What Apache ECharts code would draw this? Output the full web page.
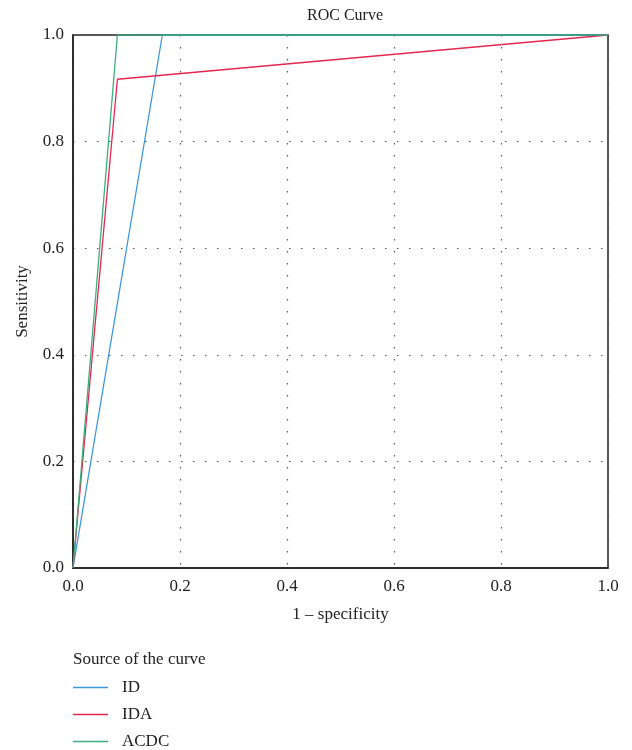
<!DOCTYPE html>
<html><head><meta charset="utf-8">
<script src="https://cdn.jsdelivr.net/npm/echarts@6/dist/echarts.min.js"></script>
<style>html,body{margin:0;padding:0;background:#fff}#c{width:632px;height:750px}</style>
</head><body><div id="c"></div>
<script>
const seriesNames = ['ID', 'IDA', 'ACDC'];
const idX = [0, 0.167, 1];
const idY = [0, 1, 1];
const idaX = [0, 0.083, 1];
const idaY = [0, 0.917, 1];
const acdcX = [0, 0.083, 1];
const acdcY = [0, 1, 1];
const tickValues = [0, 0.2, 0.4, 0.6, 0.8, 1.0];
const colors = ['#3f97dc', '#e5264f', '#3aae7c'];

const FONT = 'Liberation Serif';
const pairs = (xs, ys) => xs.map((x, i) => [x, ys[i]]);
const seriesData = [pairs(idX, idY), pairs(idaX, idaY), pairs(acdcX, acdcY)];

const chart = echarts.init(document.getElementById('c'), null, {renderer: 'canvas'});
chart.setOption({
  animation: false,
  textStyle: {fontFamily: FONT},
  title: [
    {text: 'ROC Curve', left: 340, top: 3, textAlign: 'center',
     textStyle: {fontFamily: FONT, fontSize: 16, fontWeight: 'normal', color: '#222'}},
    {text: 'Source of the curve', left: 68, top: 646,
     textStyle: {fontFamily: FONT, fontSize: 17, fontWeight: 'normal', color: '#222'}}
  ],
  legend: {
    orient: 'vertical', left: 73, top: 679, height: 71, itemGap: 10, padding: 0,
    itemWidth: 35, itemHeight: 1.5, icon: 'rect',
    data: seriesNames,
    textStyle: {fontFamily: FONT, fontSize: 17, color: '#222', padding: [0, 0, 0, 9]}
  },
  grid: {left: 73, right: 24, top: 35, bottom: 182, show: true, borderColor: '#222', borderWidth: 1.5, containLabel: false},
  xAxis: {
    type: 'value', min: 0, max: 1, interval: 0.2,
    name: '1 – specificity', nameLocation: 'middle', nameGap: 38,
    nameTextStyle: {fontFamily: FONT, fontSize: 17, color: '#222'},
    axisLine: {show: true, lineStyle: {color: '#222', width: 1.5}},
    axisTick: {show: false},
    axisLabel: {fontFamily: FONT, fontSize: 17, color: '#222', margin: 10,
      formatter: v => tickValues.includes(+v.toFixed(1)) ? v.toFixed(1) : ''},
    splitLine: {show: true, lineStyle: {color: '#555', type: [1.5, 10.5], width: 1.2}}
  },
  yAxis: {
    type: 'value', min: 0, max: 1, interval: 0.2,
    name: 'Sensitivity', nameLocation: 'middle', nameGap: 42,
    nameTextStyle: {fontFamily: FONT, fontSize: 17, color: '#222'},
    axisLine: {show: true, lineStyle: {color: '#222', width: 1.5}},
    axisTick: {show: false},
    axisLabel: {fontFamily: FONT, fontSize: 17, color: '#222', margin: 9,
      formatter: v => v.toFixed(1)},
    splitLine: {show: true, lineStyle: {color: '#555', type: [1.5, 10.5], width: 1.2}}
  },
  series: seriesNames.map((n, i) => ({
    name: n, type: 'line', data: seriesData[i], showSymbol: false, symbol: 'none',
    lineStyle: {color: colors[i], width: 1.3}, itemStyle: {color: colors[i]}
  }))
});
</script></body></html>
